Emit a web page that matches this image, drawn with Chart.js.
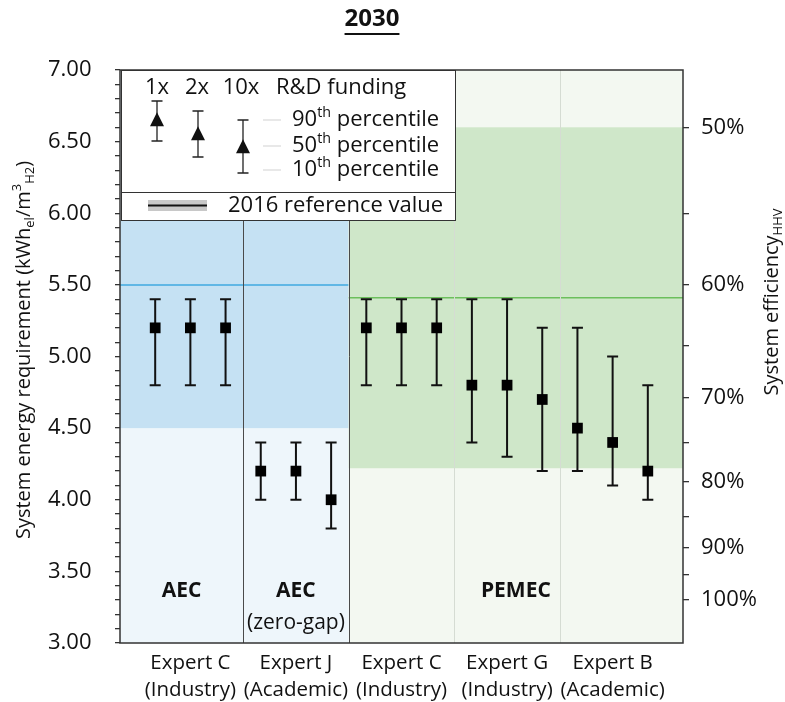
<!DOCTYPE html>
<html><head><meta charset="utf-8">
<script src="https://cdn.jsdelivr.net/npm/chart.js@4.4.0/dist/chart.umd.min.js"></script>
<style>html,body{margin:0;padding:0;background:#fff}</style>
</head><body>
<canvas id="c" width="785" height="702"></canvas>
<script>
// ---------- DATA ----------
const groupLabels = [["Expert C","(Industry)"],["Expert J","(Academic)"],["Expert C","(Industry)"],["Expert G","(Industry)"],["Expert B","(Academic)"]];
const groupCenters = [2, 5, 8, 11, 14];
const pointX = [1,2,3, 4,5,6, 7,8,9, 10,11,12, 13,14,15];
const median = [5.2,5.2,5.2, 4.2,4.2,4.0, 5.2,5.2,5.2, 4.8,4.8,4.7, 4.5,4.4,4.2];
const p10    = [4.8,4.8,4.8, 4.0,4.0,3.8, 4.8,4.8,4.8, 4.4,4.3,4.2, 4.2,4.1,4.0];
const p90    = [5.4,5.4,5.4, 4.4,4.4,4.4, 5.4,5.4,5.4, 5.4,5.4,5.2, 5.2,5.0,4.8];
const techNames = ["AEC", "AEC", "PEMEC"];
const techSub = ["", "(zero-gap)", ""];
const techCenters = [1.75, 5, 11.25];
const regionStart = [0, 6.5];
const regionEnd = [6.5, 16];
const bandLow = [4.5, 4.22];
const bandHigh = [5.95, 6.6];
const refValue2016 = [5.5, 5.41];
const dividers = [3.5, 6.5, 9.5, 12.5];
const effTicks = [50,55,60,65,70,75,80,85,90,95,100];
const effConst = 3.3;
const yMin = 3, yMax = 7;

// ---------- STYLE ----------
const FONT = '"Open Sans", sans-serif';
const TXT = 22;
const lightColors = ['#eef6fb', '#f3f8f1'];
const bandColors = ['#c5e1f3', '#cfe7c9'];
const refColors = ['#3fa9e0', '#6cbf5c'];
const divColors = ['#4a4a4a', '#4a4a4a', '#d5dcd3', '#d5dcd3'];

function drawRich(ctx, parts, x, y, size, align) {
  const ws = parts.map(p => {
    ctx.font = (p.b ? 'bold ' : '') + (p.s ? size * 0.65 : size) + 'px ' + FONT;
    return ctx.measureText(p.t).width;
  });
  const total = ws.reduce((a, b) => a + b, 0);
  let cx = align === 'center' ? x - total / 2 : align === 'right' ? x - total : x;
  ctx.textAlign = 'left';
  ctx.textBaseline = 'middle';
  parts.forEach((p, i) => {
    ctx.font = (p.b ? 'bold ' : '') + (p.s ? size * 0.65 : size) + 'px ' + FONT;
    const dy = p.s === 'sub' ? size * 0.32 : p.s === 'sup' ? -size * 0.32 : 0;
    ctx.fillText(p.t, cx, y + dy);
    cx += ws[i];
  });
  return total;
}

function tri(ctx, x, y, s) {
  ctx.beginPath();
  ctx.moveTo(x, y - s * 0.55);
  ctx.lineTo(x + s / 2, y + s * 0.45);
  ctx.lineTo(x - s / 2, y + s * 0.45);
  ctx.closePath();
  ctx.fill();
}
function whisker(ctx, x, yt, yb, cap) {
  ctx.beginPath();
  ctx.moveTo(x, yt); ctx.lineTo(x, yb);
  ctx.moveTo(x - cap / 2, yt); ctx.lineTo(x + cap / 2, yt);
  ctx.moveTo(x - cap / 2, yb); ctx.lineTo(x + cap / 2, yb);
  ctx.stroke();
}

const custom = {
  id: 'custom',
  beforeDatasetsDraw(chart) {
    const { ctx, chartArea: a, scales: { x, y } } = chart;
    ctx.save();
    for (let i = 0; i < regionStart.length; i++) {
      const x0 = x.getPixelForValue(regionStart[i]), x1 = x.getPixelForValue(regionEnd[i]);
      ctx.fillStyle = lightColors[i];
      ctx.fillRect(x0, a.top, x1 - x0, a.bottom - a.top);
      const yt = y.getPixelForValue(bandHigh[i]), yb = y.getPixelForValue(bandLow[i]);
      ctx.fillStyle = bandColors[i];
      ctx.fillRect(x0, yt, x1 - x0, yb - yt);
      const yr = y.getPixelForValue(refValue2016[i]);
      ctx.strokeStyle = refColors[i]; ctx.lineWidth = 1.5;
      ctx.beginPath(); ctx.moveTo(x0, yr); ctx.lineTo(x1, yr); ctx.stroke();
    }
    dividers.forEach((d, i) => {
      const px = Math.round(x.getPixelForValue(d)) + 0.5;
      const top = i === 0 ? y.getPixelForValue(bandHigh[0]) : a.top;
      ctx.strokeStyle = divColors[i]; ctx.lineWidth = 1;
      ctx.beginPath(); ctx.moveTo(px, top); ctx.lineTo(px, a.bottom); ctx.stroke();
    });
    // technology labels
    ctx.fillStyle = '#111';
    const ly = y.getPixelForValue(3.36);
    techNames.forEach((t, i) => {
      const px = x.getPixelForValue(techCenters[i]);
      drawRich(ctx, [{ t, b: true }], px, ly, 21, 'center');
      if (techSub[i]) drawRich(ctx, [{ t: techSub[i] }], px, ly + 32, 21, 'center');
    });
    // whiskers
    ctx.strokeStyle = '#111'; ctx.lineWidth = 2;
    pointX.forEach((v, i) => {
      whisker(ctx, x.getPixelForValue(v), y.getPixelForValue(p90[i]), y.getPixelForValue(p10[i]), 11);
    });
    ctx.restore();
  },
  afterDatasetsDraw(chart) {
    const { ctx, chartArea: a } = chart;
    ctx.save();
    // legend box
    const L = a.left + 1, T = a.top, R = a.left + 335, B = a.top + 150, D = a.top + 122;
    ctx.fillStyle = '#fff';
    ctx.fillRect(L, T, R - L, B - T);
    ctx.strokeStyle = '#333'; ctx.lineWidth = 1;
    ctx.strokeRect(L + 0.5, T + 0.5, R - L, B - T);
    ctx.beginPath(); ctx.moveTo(L, D + 0.5); ctx.lineTo(R, D + 0.5); ctx.stroke();
    ctx.fillStyle = '#111';
    drawRich(ctx, [{ t: '1x' }], a.left + 37, a.top + 18, TXT, 'center');
    drawRich(ctx, [{ t: '2x' }], a.left + 77, a.top + 18, TXT, 'center');
    drawRich(ctx, [{ t: '10x' }], a.left + 121, a.top + 18, TXT, 'center');
    drawRich(ctx, [{ t: 'R&D funding' }], a.left + 156, a.top + 18, TXT, 'left');
    const lx = [37, 78, 123], lm = [50, 64, 77], lt = [31, 41, 50], lb = [71, 87, 103];
    ctx.strokeStyle = '#222'; ctx.lineWidth = 1.3;
    for (let i = 0; i < 3; i++) {
      whisker(ctx, a.left + lx[i], a.top + lt[i], a.top + lb[i], 11);
      tri(ctx, a.left + lx[i], a.top + lm[i], 14);
    }
    const pl = [['90', 50], ['50', 76], ['10', 100]];
    ctx.strokeStyle = '#e0e0e0'; ctx.lineWidth = 1.5;
    pl.forEach(([n, dy]) => {
      ctx.beginPath(); ctx.moveTo(a.left + 143, a.top + dy); ctx.lineTo(a.left + 161, a.top + dy); ctx.stroke();
      drawRich(ctx, [{ t: n }, { t: 'th', s: 'sup' }, { t: ' percentile' }], a.left + 172, a.top + dy, TXT, 'left');
    });
    // 2016 reference sample
    ctx.fillStyle = '#c8c8c8';
    ctx.fillRect(a.left + 28, a.top + 130, 59, 11);
    ctx.strokeStyle = '#111'; ctx.lineWidth = 2;
    ctx.beginPath(); ctx.moveTo(a.left + 28, a.top + 135.5); ctx.lineTo(a.left + 87, a.top + 135.5); ctx.stroke();
    ctx.fillStyle = '#111';
    drawRich(ctx, [{ t: '2016 reference value' }], a.left + 108, a.top + 136, TXT, 'left');
    // plot border
    ctx.strokeStyle = '#333'; ctx.lineWidth = 1.5;
    ctx.strokeRect(a.left, a.top, a.right - a.left, a.bottom - a.top);
    ctx.restore();
  },
  afterDraw(chart) {
    const { ctx, chartArea: a, scales: { x } } = chart;
    ctx.save();
    ctx.fillStyle = '#111';
    // title
    const w = drawRich(ctx, [{ t: '2030', b: true }], 372, 19, 24, 'center');
    ctx.strokeStyle = '#111'; ctx.lineWidth = 2;
    ctx.beginPath(); ctx.moveTo(372 - w / 2, 34); ctx.lineTo(372 + w / 2, 34); ctx.stroke();
    // category labels
    groupLabels.forEach((g, i) => {
      const px = x.getPixelForValue(groupCenters[i]);
      drawRich(ctx, [{ t: g[0] }], px, a.bottom + 20, 20.5, 'center');
      drawRich(ctx, [{ t: g[1] }], px, a.bottom + 47, 20.5, 'center');
    });
    // left axis title
    ctx.save();
    ctx.translate(24, 350);
    ctx.rotate(-Math.PI / 2);
    drawRich(ctx, [{ t: 'System energy requirement (kWh' }, { t: 'el', s: 'sub' }, { t: '/m' }, { t: '3', s: 'sup' }, { t: 'H2', s: 'sub' }, { t: ')' }], 0, 0, 20, 'center');
    ctx.restore();
    // right axis title
    ctx.save();
    ctx.translate(772, 302);
    ctx.rotate(-Math.PI / 2);
    drawRich(ctx, [{ t: 'System efficiency' }, { t: 'HHV', s: 'sub' }], 0, 0, 20, 'center');
    ctx.restore();
    ctx.restore();
  }
};

new Chart(document.getElementById('c'), {
  type: 'scatter',
  data: {
    datasets: [{
      data: pointX.map((v, i) => ({ x: v, y: median[i] })),
      pointStyle: 'rect', pointRadius: 7.6, pointHoverRadius: 7.6,
      backgroundColor: '#000', borderWidth: 0, showLine: false
    }]
  },
  options: {
    responsive: false, animation: false,
    layout: { padding: { top: 70, left: 48, right: 0, bottom: 0 } },
    plugins: { legend: { display: false }, tooltip: { enabled: false } },
    scales: {
      x: {
        type: 'linear', min: 0, max: 16,
        ticks: { display: false }, grid: { display: false }, border: { display: false },
        afterFit(s) { s.height = 59; }
      },
      y: {
        type: 'linear', position: 'left', min: yMin, max: yMax,
        ticks: {
          stepSize: 0.1, autoSkip: false, crossAlign: 'far', color: '#111',
          font: { family: FONT, size: TXT },
          callback(v) { return Math.abs(v * 2 - Math.round(v * 2)) < 1e-6 ? Number(v).toFixed(2) : ''; }
        },
        grid: { drawOnChartArea: false, drawTicks: true, tickLength: 5, color: '#333', lineWidth: 1.3 },
        border: { display: false },
        afterFit(s) { s.width = 72; }
      },
      y2: {
        type: 'linear', position: 'right', min: yMin, max: yMax,
        afterBuildTicks(s) { s.ticks = effTicks.map(e => ({ value: effConst / (e / 100) })); },
        ticks: {
          autoSkip: false, padding: 12, color: '#111',
          font: { family: FONT, size: TXT },
          callback(v, i) { return effTicks[i] % 10 === 0 ? effTicks[i] + '%' : ''; }
        },
        grid: { drawOnChartArea: false, drawTicks: true, tickLength: 6, color: '#333', lineWidth: 1.3 },
        border: { display: false },
        afterFit(s) { s.width = 102; }
      }
    }
  },
  plugins: [custom]
});
</script>
</body></html>
